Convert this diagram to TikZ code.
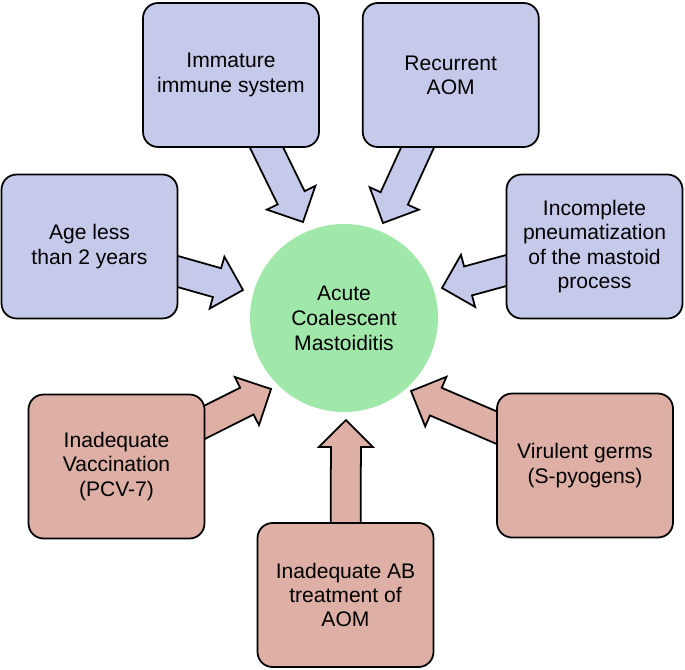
\documentclass[tikz,border=0pt]{standalone}
\usepackage{fontspec}
\setmainfont{Liberation Sans}
\usetikzlibrary{positioning,calc}
\pgfdeclarelayer{background}
\pgfsetlayers{background,main}
\definecolor{causeblue}{RGB}{197,202,235}
\definecolor{causered}{RGB}{221,175,165}
\definecolor{acmgreen}{RGB}{160,232,170}
\newcommand{\fatarrow}[3]{%
  \coordinate (fa-h) at ($(#2)!0.54cm!(#1)$);
  \filldraw[fill=#3, line width=1pt, line join=miter]
    ($(#1)!0.3cm!90:(#2)$) -- ($(fa-h)!0.3cm!90:(#2)$) -- ($(fa-h)!0.54cm!90:(#2)$) -- (#2)
    -- ($(fa-h)!0.54cm!-90:(#2)$) -- ($(fa-h)!0.3cm!-90:(#2)$) -- ($(#1)!0.3cm!-90:(#2)$) -- cycle;}

\begin{document}
\begin{tikzpicture}[x=0.02cm, y=-0.02cm,
  cause/.style={rectangle, draw, line width=1pt, rounded corners=0.3cm, minimum width=3.52cm, minimum height=2.88cm, align=center, font=\fontsize{12}{13.8}\selectfont},
  hostfactor/.style={cause, fill=causeblue},
  carefactor/.style={cause, fill=causered}]
\useasboundingbox (0,0) rectangle (685,669);
%the disease in the middle
\node[circle, fill=acmgreen, minimum size=3.76cm, align=center, font=\fontsize{12}{14.2}\selectfont] (acm) at (344,318) {Acute\\Coalescent\\Mastoiditis};
%the host factors at the top
\node[hostfactor] (imm) at (231,75) {Immature\\immune system};
\node[hostfactor, right=0.84cm of imm] (rec) {Recurrent\\AOM};
\node[hostfactor] (age) at (89.5,246.5) {Age less\\than 2 years};
\node[hostfactor] (inc) at (594.5,246.5) {Incomplete\\pneumatization\\of the mastoid\\process};
%the other factors at the bottom
\node[carefactor] (vac) at (116.5,466.5) {Inadequate\\Vaccination\\(PCV-7)};
\node[carefactor] (vir) at (585,465.5) {Virulent germs\\(S-pyogens)};
\node[carefactor] (ab) at (345.5,595) {Inadequate AB\\treatment of\\AOM};
%where the arrows stop
\coordinate (imm-tip) at (303,222);
\coordinate (rec-tip) at (383,223);
\coordinate (age-tip) at (243,290);
\coordinate (inc-tip) at (442,288);
\coordinate (vac-tip) at (271,389);
\coordinate (vir-tip) at (411,391);
\coordinate (ab-tip) at (346,420);
\begin{pgfonlayer}{background}
\fatarrow{imm.center}{imm-tip}{causeblue}
\fatarrow{rec.center}{rec-tip}{causeblue}
\fatarrow{age.center}{age-tip}{causeblue}
\fatarrow{inc.center}{inc-tip}{causeblue}
\fatarrow{vac.center}{vac-tip}{causered}
\fatarrow{vir.center}{vir-tip}{causered}
\fatarrow{ab.center}{ab-tip}{causered}
\end{pgfonlayer}
\end{tikzpicture}
\end{document}
